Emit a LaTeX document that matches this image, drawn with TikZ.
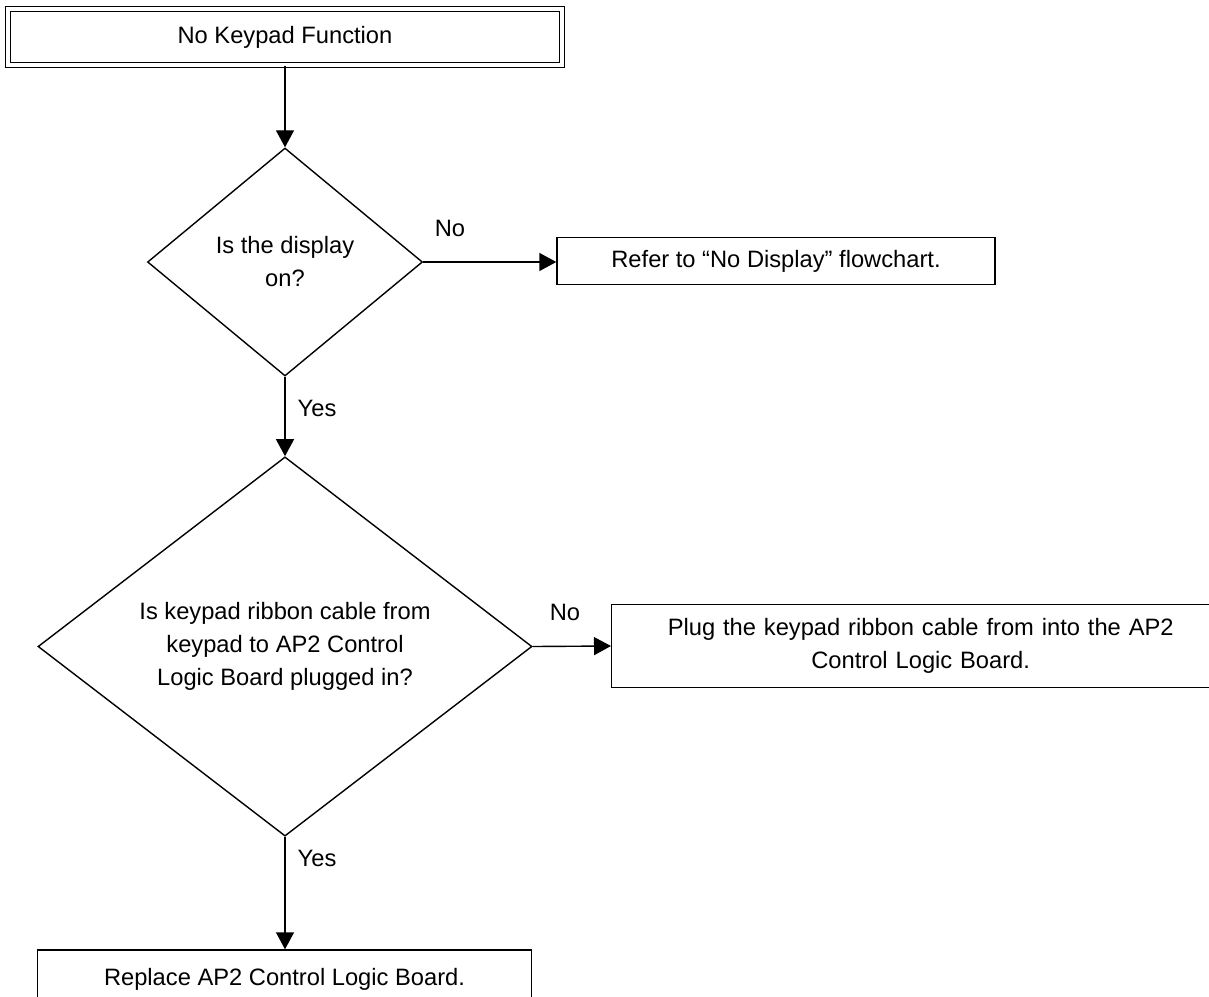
\documentclass[tikz,border=0pt]{standalone}
\usepackage{fontspec}
\setmainfont{Liberation Sans}
\usetikzlibrary{shapes.geometric,arrows.meta,positioning}

\tikzset{
  every node/.style={font=\fontsize{23.7}{33}\selectfont},
  flowline/.style={line width=1.4pt, -{Triangle[length=17pt,width=18pt]}},
  stepbox/.style={draw, line width=1.4pt, inner sep=0pt, align=center},
  decision/.style={draw, diamond, line width=1.4pt, inner sep=0pt, align=center},
}

\begin{document}
\begin{tikzpicture}[x=1pt, y=-1pt]
        \useasboundingbox (0,0) rectangle (1209,996);

        % Boxes and decisions
        \node[stepbox, double, double distance=3.6pt, minimum width=554pt, minimum height=56pt] (start) at (285,37) {No Keypad Function};
        \node[decision, minimum width=275pt, minimum height=228pt] (display) at (285,262) {Is the display\\on?};
        \node[stepbox, minimum width=438pt, minimum height=47pt] (nodisplay) at (776,261) {Refer to “No Display” flowchart.};
        \node[decision, minimum width=494pt, minimum height=365pt] (cable) at (285,646.5) {Is keypad ribbon cable from\\keypad to AP2 Control\\Logic Board plugged in?};
        \node[stepbox, anchor=west, text width=540pt, minimum width=618pt, minimum height=83pt] (plug) at (611,646) {Plug the keypad ribbon cable from into the AP2\\Control Logic Board.}; % runs off the page
        \node[stepbox, minimum width=494pt, minimum height=58pt] (replace) at (284.5,979) {Replace AP2 Control Logic Board.};

        % Connectors
        \draw[flowline] (start) -- (display);
        \draw[flowline] (display.east) -- (display.east -| nodisplay.west);
        \draw[flowline] (display.south) -- (cable.north);
        \draw[flowline] (cable.east) -- (plug.west);
        \draw[flowline] (cable.south) -- (replace.north -| cable.south);

        % Answers
        \node (no1) at (450,228) {No};
        \node (yes1) at (317,408) {Yes};
        \node (no2) at (565,612) {No};
        \node (yes2) at (317,858) {Yes};
\end{tikzpicture}
\end{document}
